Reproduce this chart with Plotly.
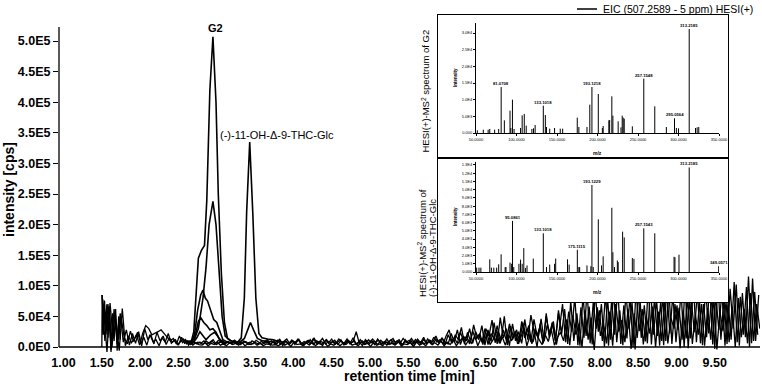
import plotly.graph_objects as go

# ------------------------------------------------------------------
# DATA (chromatogram intensities in units of 1E3 cps)
# ------------------------------------------------------------------
SCAN_START = 1.50   # min, first scan of the noise traces
SCAN_STEP = 0.04    # min between scans
NOISE_OFFSETS = [0.0, 0.013, 0.027]

NOISE_1 = ([85, 10, 70, -5, 62, 5, 55] +
           [8, 28, 3, 22, 6, 25, 2, 30, 12, 20, 5, 24, 10, 18, 4, 15, 8, 12, 3, 16, 6, 10, 4, 9, 5] +
           [8, 4, 10, 6, 9, 5, 11, 7, 4, 9, 6, 10, 5, 8, 6, 9, 4, 10, 7, 5, 9, 6, 8, 5] +
           [9, 5, 12, 6, 10, 4, 11, 7, 13, 5, 9, 6, 12, 4, 10, 8, 14, 5, 9, 7,
            11, 4, 10, 6, 13, 5, 9, 25, 6, 10, 5, 12, 7, 9, 4, 11, 6, 13, 5, 10,
            8, 12, 4, 9, 6, 14, 7, 10, 5, 12, 6, 11, 4, 13, 7, 15, 8] +
           [5, 22, 8, 28, 4, 18, 10, 30, 6, 25, 12, 35, 3, 28, 9, 40, 5, 48, 15, 30,
            2, 38, 10, 25, 6, 45, 12, 52, 28, 0, 38, 7, 55, 15, 40, 10, 60] +
           [20, 62, 5, 75, 10, 55, 2, 85, 18, 66, 4, 90, 25, 70, 0, 80, 12, 95, 8, 60,
            3, 88, 30, 72, -4, 92, 15, 68, 6, 100, 20, 78, 2, 85, 10, 96, 5, 70, 28, 90,
            0, 82, 14, 105, 8, 75, 3, 98, 22, 86, -3, 110, 12, 80, 5, 95, 30, 102, 2, 88,
            16, 115, 6, 90, 20])

NOISE_2 = ([78, 20, 66, 0, 58, 12, 48] +
           [15, 5, 26, 9, 20, 3, 22, 35, 30, 20, 22, 25, 28, 22, 15, 10, 14, 5, 18, 7, 12, 3, 11, 6, 8] +
           [6, 10, 5, 8, 12, 4, 7, 10, 6, 9, 5, 11, 7, 4, 10, 6, 8, 5, 11, 7, 4, 9, 6, 10] +
           [6, 11, 4, 9, 13, 5, 10, 7, 12, 4, 8, 11, 6, 14, 5, 9, 7, 12, 4, 10,
            6, 13, 8, 5, 11, 7, 9, 4, 12, 6, 10, 5, 13, 8, 11, 4, 9, 7, 12, 5,
            10, 6, 14, 8, 11, 4, 12, 7, 9, 5, 13, 6, 16, 8, 12, 5, 18] +
           [28, 6, 20, 12, 32, 5, 24, 9, 36, 14, 22, 4, 30, 18, 44, 7, 26, 12, 50, 3,
            34, 16, 28, 8, 40, 20, 35, 5, 30, 14, 46, 9, 36, 22, 42, 4, 30] +
           [70, 8, 58, 25, 82, 3, 65, 15, 92, 6, 72, 30, 60, 10, 88, 2, 76, 20, 98, 5,
            68, 14, 84, 0, 94, 26, 62, 9, 104, 4, 80, 18, 72, 3, 96, 22, 86, 8, 64, 12,
            100, -2, 78, 24, 90, 6, 70, 16, 108, 4, 84, 28, 92, 2, 74, 12, 106, 8, 82, 20,
            98, 0, 112, 10, 85])

NOISE_3 = ([60, -8, 72, 14, 40, -6, 63] +
           [2, 18, 7, 14, 24, 5, 16, 3, 20, 9, 12, 2, 15, 8, 22, 6, 11, 4, 9, 13, 5, 8, 3, 7, 4] +
           [3, 7, 2, 6, 4, 8, 3, 5, 2, 7, 4, 6, 3, 8, 2, 5, 4, 7, 3, 6, 2, 5, 4, 3] +
           [4, 2, 7, 3, 6, 1, 8, 4, 5, 2, 7, 3, 9, 2, 6, 4, 8, 1, 5, 3,
            7, 2, 6, 4, 9, 3, 5, 2, 8, 4, 6, 1, 7, 3, 5, 2, 8, 4, 6, 3,
            9, 2, 5, 4, 7, 1, 8, 3, 6, 2, 9, 4, 7, 3, 10, 2, 8] +
           [4, 12, 2, 9, 15, 3, 11, 6, 18, 2, 14, 8, 22, 4, 12, 28, 6, 16, 3, 20,
            10, 25, 5, 15, 30, 2, 18, 8, 26, 12, 4, 20, 9, 28, 3, 16, 24] +
           [10, 45, 3, 52, 20, 38, 0, 60, 12, 48, -5, 65, 18, 40, 6, 58, 2, 70, 25, 44,
            8, 62, -3, 55, 15, 72, 4, 50, 22, 66, 0, 58, 10, 75, 6, 48, 30, 68, -2, 60,
            14, 78, 5, 52, 20, 70, 2, 64, 12, 82, -4, 58, 26, 74, 8, 66, 0, 80, 16, 62,
            6, 88, 10, 70, 30])

# extra trace in the middle of the run (starts 3.62 min, same scan step)
NOISE_4_START = 3.62
NOISE_4 = [7, 12, 3, 10, 5, 13, 2, 9, 6, 11, 4, 12, 7, 3, 10, 5, 14, 6, 9, 2,
           11, 7, 13, 4, 8, 12, 3, 10, 6, 15, 5, 9, 2, 12, 7, 11, 4, 13, 6, 8,
           3, 10, 14, 5, 9, 2, 12, 6, 10, 4, 13, 7, 16, 5, 11, 8, 18, 6, 14, 4,
           20, 9, 15, 6, 24, 10, 18, 5, 26, 12, 20, 8, 30, 4, 22, 14, 35, 6, 28, 10,
           38, 12, 25, 5, 42, 15, 30, 8, 45, 18, 34, 6, 50, 20, 40, 10, 55, 25]

BURST_T = [1.50, 1.505, 1.52, 1.535, 1.55, 1.565, 1.58, 1.60, 1.62, 1.64, 1.66, 1.68, 1.70, 1.72, 1.74]
BURST_V = [0, 85, 20, 76, 35, 70, 15, 66, -8, 55, 10, 62, -6, 50, 12]

# peak traces (time in min, intensity in 1E3 cps)
P1_T = [2.60, 2.67, 2.70, 2.73, 2.76, 2.80, 2.84, 2.87, 2.91, 2.95, 2.99, 3.02, 3.06, 3.10, 3.14, 3.20, 3.30]
P1_V = [9, 10, 25, 90, 145, 158, 166, 240, 420, 507, 400, 250, 120, 40, 14, 9, 8]
P2_T = [2.70, 2.76, 2.82, 2.86, 2.90, 2.95, 2.99, 3.03, 3.07, 3.11, 3.18, 3.26]
P2_V = [10, 30, 80, 130, 200, 238, 200, 120, 50, 18, 10, 8]
P3_T = [3.20, 3.28, 3.32, 3.36, 3.39, 3.43, 3.47, 3.51, 3.55, 3.59, 3.66, 3.74, 3.80, 3.88]
P3_V = [8, 9, 15, 80, 220, 335, 220, 80, 22, 15, 13, 12, 9, 8]
P4_T = [2.66, 2.71, 2.75, 2.79, 2.82, 2.85, 2.88, 2.92, 2.96, 3.00, 3.04, 3.08, 3.14]
P4_V = [8, 20, 60, 85, 93, 80, 75, 60, 45, 40, 25, 12, 8]
P5_T = [2.66, 2.72, 2.76, 2.79, 2.83, 2.87, 2.91, 2.95, 2.99, 3.03, 3.08, 3.20, 3.30, 3.36, 3.41, 3.44, 3.48, 3.53, 3.60, 3.70]
P5_V = [6, 18, 42, 48, 40, 35, 28, 30, 24, 14, 8, 7, 8, 14, 30, 40, 28, 14, 10, 9]
P6_T = [2.68, 2.74, 2.78, 2.82, 2.86, 2.92, 2.97, 3.01, 3.06, 3.12]
P6_V = [5, 15, 25, 18, 12, 20, 24, 18, 8, 5]

X_TICKS = [1.0, 1.5, 2.0, 2.5, 3.0, 3.5, 4.0, 4.5, 5.0, 5.5, 6.0, 6.5, 7.0, 7.5, 8.0, 8.5, 9.0, 9.5]
Y_TICKS = [0, 5e4, 1e5, 1.5e5, 2e5, 2.5e5, 3e5, 3.5e5, 4e5, 4.5e5, 5e5]
Y_TICKTEXT = ["0.0E0", "5.0E4", "1.0E5", "1.5E5", "2.0E5", "2.5E5", "3.0E5", "3.5E5", "4.0E5", "4.5E5", "5.0E5"]

# MS2 spectrum of G2 (m/z, intensity)
S1_MZ = [51.6, 59, 65, 67, 73, 78, 81.07, 85, 92, 93, 95, 97, 105, 107, 109.6, 112, 119, 121, 123,
         133.1, 135.6, 137, 141, 147, 154, 157, 175, 177, 187, 190.5, 193.12, 201, 206, 207, 214,
         215, 217.7, 219, 225.5, 229, 230.5, 231.7, 233, 243, 257.15, 270.7, 285, 295.06, 297.4,
         300, 313.22, 321, 323, 325]
S1_INT = [800, 1000, 1000, 1200, 1000, 1200, 13800, 3800, 6700, 1500, 10000, 1200, 1500, 5300, 5700,
          2200, 1200, 1400, 2400, 8200, 5400, 1800, 1300, 1500, 1300, 1300, 4600, 1800, 1800, 8500,
          13800, 11700, 1500, 2100, 3800, 3900, 11000, 5200, 3500, 1700, 5200, 4600, 4300, 2000,
          16300, 8000, 1800, 4400, 1500, 1400, 31200, 1500, 1700, 1800]
S1_LAB_MZ = [81.07, 133.1, 193.12, 257.15, 295.06, 313.22]
S1_LAB_INT = [13800, 8200, 13800, 16300, 4400, 31200]
S1_LAB_TXT = ["81.0708", "133.1018", "193.1218", "257.1548", "295.0564", "313.2185"]
S1_YTICKS = [0, 5000, 10000, 15000, 20000, 25000, 30000]
S1_YTEXT = ["0.000", "5.0E3", "1.0E4", "1.5E4", "2.0E4", "2.5E4", "3.0E4"]

# MS2 spectrum of (-)-11-OH-Δ-9-THC-Glc
S2_MZ = [50.8, 53.7, 56, 67, 69, 72, 75.5, 78, 81, 86, 87, 92, 94, 95.09, 96.6, 103, 105, 107, 109,
         111, 113, 120.7, 133.1, 137, 141, 147, 148.4, 163, 165, 175.11, 177, 178, 187, 191.8,
         193.12, 194.7, 201, 205, 207, 217.7, 219, 221, 224.5, 225.5, 231, 233, 243, 245, 257.15,
         270.7, 294.5, 295.6, 300.6, 313.22, 349.6]
S2_INT = [530, 530, 530, 1540, 530, 530, 530, 930, 2150, 600, 600, 1140, 1000, 6200, 600, 1000, 1500,
          1000, 2900, 500, 800, 1630, 4700, 600, 900, 1000, 1630, 1540, 900, 2700, 600, 600, 800, 700,
          10570, 600, 6400, 800, 1900, 7800, 2400, 600, 1400, 1200, 4900, 4200, 1700, 1600, 5300,
          4700, 1850, 1800, 2100, 12700, 700]
S2_LAB_MZ = [95.09, 133.1, 175.11, 193.12, 257.15, 313.22, 349.6]
S2_LAB_INT = [6200, 4700, 2700, 10570, 5300, 12700, 700]
S2_LAB_TXT = ["95.0861", "133.1018", "175.1115", "193.1229", "257.1543", "313.2185", "349.0571"]
S2_YTICKS = [0, 1000, 2000, 3000, 4000, 5000, 6000, 7000, 8000, 9000, 10000, 11000, 12000, 13000]
S2_YTEXT = ["0.000", "1.0E3", "2.0E3", "3.0E3", "4.0E3", "5.0E3", "6.0E3", "7.0E3", "8.0E3", "9.0E3",
            "1.0E4", "1.1E4", "1.2E4", "1.3E4"]
MZ_TICKS = [50, 100, 150, 200, 250, 300, 350]
MZ_TEXT = ["50.0000", "100.0000", "150.0000", "200.0000", "250.0000", "300.0000", "350.0000"]

# ------------------------------------------------------------------
# LAYOUT GEOMETRY
# ------------------------------------------------------------------
W, H = 762, 384
ML, MR, MT, MB = 59, 2, 5, 31
PW = W - ML - MR
PH = H - MT - MB
FONT = "Liberation Sans, Arial, sans-serif"


def pxx(px):
    return (px - ML) / PW


def pxy(py):
    return (H - MB - py) / PH


K = 5e5 / 306.0              # cps per pixel on main y axis (0 at px 347)
Y_RANGE = [-(H - MB - 347) * K, (347 - MT) * K]
X_RANGE = [0.941, 10.09]

fig = go.Figure()
LINE = dict(color="black", width=1.3)

noise_sets = [(NOISE_1, SCAN_START + NOISE_OFFSETS[0]),
              (NOISE_2, SCAN_START + NOISE_OFFSETS[1]),
              (NOISE_3, SCAN_START + NOISE_OFFSETS[2]),
              (NOISE_4, NOISE_4_START)]
for vals, t0 in noise_sets:
    t = [t0 + SCAN_STEP * i for i in range(len(vals))]
    fig.add_trace(go.Scatter(x=t, y=[v * 1000 for v in vals], mode="lines", line=LINE,
                             xaxis="x", yaxis="y", hoverinfo="skip"))
fig.add_trace(go.Scatter(x=BURST_T, y=[v * 1000 for v in BURST_V], mode="lines", line=LINE,
                         xaxis="x", yaxis="y", hoverinfo="skip"))
for tt, vv in [(P6_T, P6_V), (P5_T, P5_V), (P4_T, P4_V), (P2_T, P2_V), (P3_T, P3_V), (P1_T, P1_V)]:
    fig.add_trace(go.Scatter(x=tt, y=[v * 1000 for v in vv], mode="lines",
                             line=dict(color="black", width=1.6), xaxis="x", yaxis="y",
                             hoverinfo="skip"))

# box subplots (white background frames)
for xa, ya in [("x2", "y2"), ("x4", "y4")]:
    fig.add_trace(go.Scatter(x=[None], y=[None], xaxis=xa, yaxis=ya, mode="lines"))


def stick_xy(mz, inten):
    xs, ys = [], []
    for m, h in zip(mz, inten):
        xs += [m, m, None]
        ys += [0, h, None]
    return xs, ys


for mz, it, xa, ya in [(S1_MZ, S1_INT, "x3", "y3"), (S2_MZ, S2_INT, "x5", "y5")]:
    xs, ys = stick_xy(mz, it)
    fig.add_trace(go.Scatter(x=xs, y=ys, mode="lines", line=dict(color="black", width=1),
                             xaxis=xa, yaxis=ya, hoverinfo="skip"))

BOX_X = [pxx(438), pxx(728)]
IN_X = [pxx(476), pxx(719)]
BOX1_Y = [pxy(157), pxy(15)]
IN1_Y = [pxy(133), pxy(23)]
BOX2_Y = [pxy(302), pxy(159)]
IN2_Y = [pxy(272), pxy(162)]

box_ax = dict(range=[0, 1], showline=True, mirror=True, linecolor="black", linewidth=1,
              ticks="", showticklabels=False, showgrid=False, zeroline=False, automargin=False)
tiny = dict(family=FONT, size=4, color="black")
in_x = dict(range=[50, 350], tickvals=MZ_TICKS, ticktext=MZ_TEXT, showline=True, linecolor="black",
            linewidth=1, ticks="outside", ticklen=2, tickwidth=0.6, tickcolor="black",
            showgrid=False, zeroline=False, tickfont=tiny, automargin=False)
in_y = dict(showline=True, linecolor="black", linewidth=1, ticks="outside", ticklen=2, tickwidth=0.6,
            tickcolor="black", showgrid=False, zeroline=False, tickfont=tiny, automargin=False)

fig.update_layout(
    template="none",
    width=W, height=H, margin=dict(l=ML, r=MR, t=MT, b=MB, autoexpand=False),
    paper_bgcolor="white", plot_bgcolor="white", showlegend=False,
    font=dict(family=FONT, color="black"),
    xaxis=dict(range=X_RANGE, tickvals=X_TICKS, ticktext=["%.2f" % v for v in X_TICKS],
               showline=False, showgrid=False, zeroline=False, ticks="", automargin=False,
               tickfont=dict(family=FONT, size=12.5, color="black", weight="bold")),
    yaxis=dict(range=Y_RANGE, tickvals=Y_TICKS, ticktext=Y_TICKTEXT, showline=False,
               showgrid=False, zeroline=False, ticks="outside", ticklen=5, tickwidth=1,
               tickcolor="black", automargin=False,
               tickfont=dict(family=FONT, size=12.5, color="black", weight="bold")),
    xaxis2=dict(domain=BOX_X, anchor="y2", **box_ax),
    yaxis2=dict(domain=BOX1_Y, anchor="x2", **box_ax),
    xaxis3=dict(domain=IN_X, anchor="y3", **in_x),
    yaxis3=dict(domain=IN1_Y, anchor="x3", range=[0, 33000], tickvals=S1_YTICKS, ticktext=S1_YTEXT, **in_y),
    xaxis4=dict(domain=BOX_X, anchor="y4", **box_ax),
    yaxis4=dict(domain=BOX2_Y, anchor="x4", **box_ax),
    xaxis5=dict(domain=IN_X, anchor="y5", **in_x),
    yaxis5=dict(domain=IN2_Y, anchor="x5", range=[0, 13360], tickvals=S2_YTICKS, ticktext=S2_YTEXT, **in_y),
)

# axis lines of the chromatogram
fig.add_shape(type="line", xref="paper", yref="y", x0=0, x1=1, y0=0, y1=0,
              line=dict(color="black", width=1.3))
fig.add_shape(type="line", xref="paper", yref="y", x0=0, x1=0, y0=0, y1=5.23e5,
              line=dict(color="black", width=1.3))
# legend line
fig.add_shape(type="line", xref="paper", yref="paper", x0=pxx(577), x1=pxx(597),
              y0=pxy(9), y1=pxy(9), line=dict(color="black", width=1.5))

ann = []


def A(text, x, y, size, bold=False, angle=0, xref="paper", yref="paper", xanchor="center",
      yanchor="middle", align="center"):
    ann.append(dict(text=text, x=x, y=y, xref=xref, yref=yref, xanchor=xanchor, yanchor=yanchor,
                    showarrow=False, textangle=angle, align=align, borderpad=0,
                    font=dict(family=FONT, size=size, color="black",
                              weight="bold" if bold else "normal")))


A("EIC (507.2589 - 5 ppm) HESI(+)", pxx(602), pxy(9), 10.5, xanchor="left")
A("retention time [min]", 0.5, pxy(376), 14, bold=True)
A("intensity [cps]", pxx(9), pxy(190), 14, bold=True, angle=-90)
A("G2", pxx(215), pxy(28), 11, bold=True)
A("(-)-11-OH-Δ-9-THC-Glc", pxx(277), pxy(135), 11)
A("HESI(+)-MS<sup>2</sup> spectrum of G2", pxx(426), pxy(154), 9.5, angle=-90, yanchor="bottom")
A("HESI(+)-MS<sup>2</sup> spectrum of", pxx(422), pxy(298), 9.5, angle=-90, yanchor="bottom")
A("(-)-11-OH-Δ-9-THC-Glc", pxx(432), pxy(298), 9.5, angle=-90, yanchor="bottom")
A("Intensity", pxx(455), pxy(78), 4.5, bold=True, angle=-90)
A("Intensity", pxx(455), pxy(217), 4.5, bold=True, angle=-90)
A("m/z", pxx(597), pxy(153), 5, bold=True)
A("m/z", pxx(597), pxy(292), 5, bold=True)
for m, h, t in zip(S1_LAB_MZ, S1_LAB_INT, S1_LAB_TXT):
    A(t, m, h, 4.2, bold=True, xref="x3", yref="y3", yanchor="bottom")
for m, h, t in zip(S2_LAB_MZ, S2_LAB_INT, S2_LAB_TXT):
    A(t, m, h, 4.2, bold=True, xref="x5", yref="y5", yanchor="bottom")
fig.update_layout(annotations=ann)

fig.write_html("out.html", config={"displayModeBar": False},
               post_script="document.body.style.margin='0';")
